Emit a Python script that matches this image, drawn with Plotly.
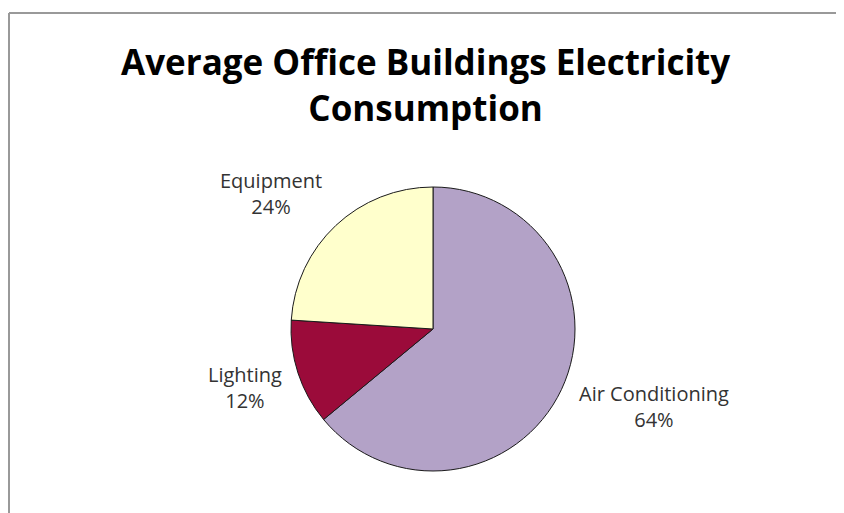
import plotly.graph_objects as go

categories = ["Air Conditioning", "Lighting", "Equipment"]
values = [64, 12, 24]
colors = ["#B3A2C7", "#9B0B3A", "#FFFFCC"]

W, H = 844, 513
OFF = 8  # page body margin
cx, cy, r = 433 - OFF, 329 - OFF, 142

def px(x):
    return (x - OFF) / W

def py(y):
    return 1 - (y - OFF) / H

fig = go.Figure(go.Pie(
    labels=categories, values=values, sort=False, direction="clockwise",
    marker=dict(colors=colors, line=dict(color="#1a1a1a", width=1)),
    textinfo="none", hoverinfo="label+percent", showlegend=False,
    domain=dict(x=[(cx - r) / W, (cx + r) / W], y=[1 - (cy + r) / H, 1 - (cy - r) / H]),
))

label_pos = {"Air Conditioning": (654, 406), "Lighting": (245, 387), "Equipment": (271, 193)}
total = sum(values)
for name, v in zip(categories, values):
    x, y = label_pos[name]
    fig.add_annotation(x=px(x), y=py(y), xref="paper", yref="paper",
                       xanchor="center", yanchor="middle",
                       text=f"{name}<br>{round(100 * v / total)}%", showarrow=False,
                       font=dict(family="Open Sans, sans-serif", size=20, color="#333333"),
                       align="center")

fig.add_annotation(x=px(425), y=py(84), xref="paper", yref="paper",
                   xanchor="center", yanchor="middle",
                   text="<b>Average Office Buildings Electricity<br>Consumption</b>",
                   showarrow=False, align="center",
                   font=dict(family="Open Sans, sans-serif", size=35, color="#000000"))

fig.add_shape(type="line", xref="paper", yref="paper",
              x0=px(9), x1=1.2, y0=py(13), y1=py(13),
              line=dict(color="#999999", width=2))
fig.add_shape(type="line", xref="paper", yref="paper",
              x0=px(9), x1=px(9), y0=py(13), y1=-0.2,
              line=dict(color="#999999", width=2))

fig.update_layout(width=W, height=H, margin=dict(l=0, r=0, t=0, b=0),
                  paper_bgcolor="white", plot_bgcolor="white")
fig.write_html("out.html")
